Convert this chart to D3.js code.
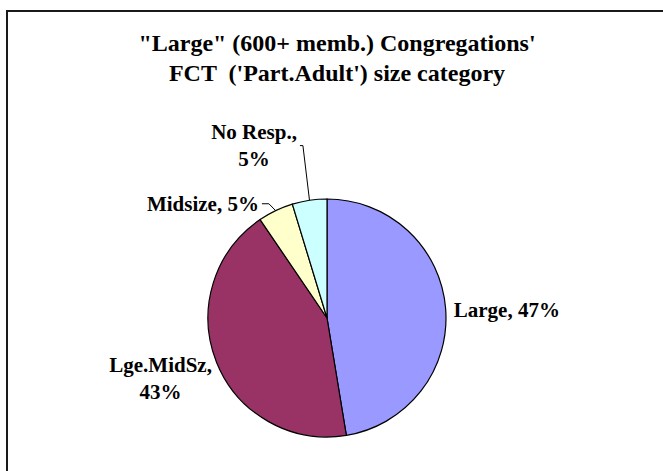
<!DOCTYPE html>
<html>
<head>
<meta charset="utf-8">
<script src="https://cdn.jsdelivr.net/npm/d3@7"></script>
<style>
  body { margin: 0; background: #fff; }
  svg { display: block; }
</style>
</head>
<body>
<svg id="chart" width="663" height="471"></svg>
<script>
// Pie of size categories, slices go clockwise from 12 o'clock
const categories = ["Large", "Lge.MidSz", "Midsize", "No Resp."]
const shares = [47.4, 43.1, 4.8, 4.7]
const sliceColors = ["#9999FF", "#993366", "#FFFFCC", "#CCFFFF"]
const titleLines = ["\"Large\" (600+ memb.) Congregations'", "FCT  ('Part.Adult') size category"]

// where each label block sits: polar point (deg from 12 o'clock, px) and which side of the block touches it
const labelLayout = [
  {angle: 86.4, radius: 127, align: "left", split: false},
  {angle: 242.3, radius: 130, align: "right", split: true},
  {angle: 329.2, radius: 133, align: "right", split: false, leader: 10},
  {angle: 350.1, radius: 175, align: "right", split: true, leader: 6}
]

const width = 663
const height = 471
const cx = 327
const cy = 318
const r = 119
const font = "'Liberation Serif', 'Times New Roman', Times, serif"

var svg = d3.select("#chart")

svg.append("rect")
  .attr("x", 0).attr("y", 0).attr("width", width).attr("height", height)
  .attr("fill", "#fff")

// chart area border, right and bottom sides fall outside the picture
svg.append("rect")
  .attr("x", 7).attr("y", 11)
  .attr("width", 700).attr("height", 500)
  .attr("fill", "none")
  .attr("stroke", "#1a1a1a")
  .attr("stroke-width", 2)

svg.append("g")
  .selectAll("text")
  .data(titleLines)
  .enter()
  .append("text")
  .attr("x", 337)
  .attr("y", (d, i) => 51 + i * 30)
  .attr("text-anchor", "middle")
  .attr("font-family", font)
  .attr("font-weight", "bold")
  .attr("font-size", 24)
  .style("white-space", "pre")
  .text(d => d)

var data = categories.map((c, i) => ({name: c, value: shares[i], color: sliceColors[i]}))
var total = d3.sum(shares)

var pie = d3.pie().sort(null).value(d => d.value)
var arcs = pie(data)
var arc = d3.arc().innerRadius(0).outerRadius(r)

var g = svg.append("g").attr("transform", "translate(" + cx + "," + cy + ")")

g.selectAll("path")
  .data(arcs)
  .enter()
  .append("path")
  .attr("d", arc)
  .attr("fill", d => d.data.color)
  .attr("stroke", "#000")
  .attr("stroke-width", 1.2)

function polar(deg, rad) {
  var a = deg * Math.PI / 180
  return [rad * Math.sin(a), -rad * Math.cos(a)]
}

arcs.forEach(function(d, i) {
  var lay = labelLayout[i]
  var pct = Math.round(d.data.value / total * 100) + "%"
  var lines = lay.split ? [d.data.name + ",", pct] : [d.data.name + ", " + pct]

  var lg = g.append("g")
  lg.selectAll("text")
    .data(lines)
    .enter()
    .append("text")
    .attr("x", 0)
    .attr("y", (t, j) => j * 27)
    .attr("text-anchor", "middle")
    .attr("font-family", font)
    .attr("font-weight", "bold")
    .attr("font-size", 21)
    .text(t => t)

  // measure the block, then push it so its near side touches the layout point
  var box = lg.node().getBBox()
  var p = polar(lay.angle, lay.radius)
  var tx = lay.align == "left" ? p[0] - box.x : p[0] - box.x - box.width
  var ty = p[1] - (box.y + box.height / 2)
  lg.attr("transform", "translate(" + tx + "," + ty + ")")

  if (lay.leader) {
    var mid = (d.startAngle + d.endAngle) / 2 * 180 / Math.PI
    var edge = polar(mid, r)
    var pts = [edge, [p[0] + lay.leader, p[1]], [p[0] + 3, p[1]]]
    g.append("path")
      .attr("d", d3.line()(pts))
      .attr("fill", "none")
      .attr("stroke", "#000")
      .attr("stroke-width", 1)
  }
})
</script>
</body>
</html>
